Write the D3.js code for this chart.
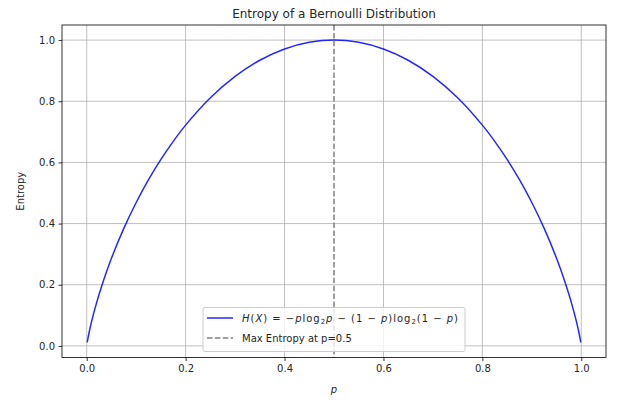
<!DOCTYPE html>
<html>
<head>
<meta charset="utf-8">
<title>Entropy of a Bernoulli Distribution</title>
<style>
  body { margin: 0; background: #fff; }
  svg text { font-family: "DejaVu Sans", sans-serif; fill: #262626; }
</style>
</head>
<body>
<svg id="chart" width="618" height="403"></svg>
<script src="https://d3js.org/d3.v7.min.js"></script>
<script>
// values
var pValues = [0.001, 0.005, 0.01, 0.02, 0.03, 0.05, 0.075, 0.1, 0.125, 0.15, 0.175, 0.2, 0.25, 0.3, 0.35, 0.4, 0.45, 0.5,
               0.55, 0.6, 0.65, 0.7, 0.75, 0.8, 0.825, 0.85, 0.875, 0.9, 0.925, 0.95, 0.97, 0.98, 0.99, 0.995, 0.999];
var entropyValues = [0.0114, 0.0454, 0.0808, 0.1414, 0.1944, 0.2864, 0.3843, 0.4690, 0.5436, 0.6098, 0.6690, 0.7219, 0.8113, 0.8813, 0.9341, 0.9710, 0.9928, 1.0,
                     0.9928, 0.9710, 0.9341, 0.8813, 0.8113, 0.7219, 0.6690, 0.6098, 0.5436, 0.4690, 0.3843, 0.2864, 0.1944, 0.1414, 0.0808, 0.0454, 0.0114];
var xTicks = [0.0, 0.2, 0.4, 0.6, 0.8, 1.0];
var yTicks = [0.0, 0.2, 0.4, 0.6, 0.8, 1.0];
var maxP = 0.5;

var data = pValues.map(function(p, i) { return {p: p, h: entropyValues[i]}; });

var svg = d3.select('#chart');
var plotL = 62, plotR = 606, plotT = 25, plotB = 357.5;

var x = d3.scaleLinear().domain([-0.05, 1.05]).range([plotL, plotR]);
var y = d3.scaleLinear().domain([-0.0380, 1.0494]).range([plotB, plotT]);

// grid
var grid = svg.append('g');
grid.selectAll('.vg').data(xTicks).enter().append('line')
  .attr('x1', function(d) { return x(d); }).attr('x2', function(d) { return x(d); })
  .attr('y1', plotT).attr('y2', plotB)
  .attr('stroke', '#b0b0b0').attr('stroke-width', 0.8);
grid.selectAll('.hg').data(yTicks).enter().append('line')
  .attr('y1', function(d) { return y(d); }).attr('y2', function(d) { return y(d); })
  .attr('x1', plotL).attr('x2', plotR)
  .attr('stroke', '#b0b0b0').attr('stroke-width', 0.8);

// entropy curve
var line = d3.line()
  .x(function(d) { return x(d.p); })
  .y(function(d) { return y(d.h); })
  .curve(d3.curveCatmullRom);
svg.append('path').datum(data)
  .attr('d', line)
  .attr('fill', 'none')
  .attr('stroke', '#0000ff')
  .attr('stroke-opacity', 0.85)
  .attr('stroke-width', 1.5);

// max entropy line
svg.append('line')
  .attr('x1', x(maxP)).attr('x2', x(maxP))
  .attr('y1', plotT).attr('y2', plotB)
  .attr('stroke', '#808080')
  .attr('stroke-width', 1.5)
  .attr('stroke-dasharray', '5.5,2.4');

// axes
var xAxis = d3.axisBottom(x).tickValues(xTicks).tickFormat(d3.format('.1f')).tickSize(3.5).tickPadding(3.5);
var yAxis = d3.axisLeft(y).tickValues(yTicks).tickFormat(d3.format('.1f')).tickSize(3.5).tickPadding(3.5);
var gx = svg.append('g').attr('transform', 'translate(0,' + plotB + ')').call(xAxis);
var gy = svg.append('g').attr('transform', 'translate(' + plotL + ',0)').call(yAxis);
[gx, gy].forEach(function(g) {
  g.select('.domain').remove();
  g.selectAll('line').attr('stroke', '#000').attr('stroke-width', 0.8);
  g.selectAll('text').attr('font-size', 10).attr('fill', '#262626')
    .style('font-family', '"DejaVu Sans", sans-serif');
});

// frame
svg.append('rect')
  .attr('x', plotL).attr('y', plotT)
  .attr('width', plotR - plotL).attr('height', plotB - plotT)
  .attr('fill', 'none').attr('stroke', '#000').attr('stroke-width', 0.8);

// titles
svg.append('text').attr('x', (plotL + plotR) / 2).attr('y', 18)
  .attr('text-anchor', 'middle').attr('font-size', 12).text('Entropy of a Bernoulli Distribution');
svg.append('text').attr('x', (plotL + plotR) / 2).attr('y', 393)
  .attr('text-anchor', 'middle').attr('font-size', 10).attr('font-style', 'italic').text('p');
svg.append('text').attr('transform', 'translate(24,' + ((plotT + plotB) / 2) + ') rotate(-90)')
  .attr('text-anchor', 'middle').attr('font-size', 10).text('Entropy');

// legend
var lg = svg.append('g');
lg.append('rect')
  .attr('x', 203).attr('y', 307.5).attr('width', 262).attr('height', 44)
  .attr('rx', 2).attr('fill', '#fff').attr('fill-opacity', 0.8)
  .attr('stroke', '#cccccc').attr('stroke-width', 1);
lg.append('line').attr('x1', 207).attr('x2', 233).attr('y1', 318).attr('y2', 318)
  .attr('stroke', '#0000ff').attr('stroke-opacity', 0.85).attr('stroke-width', 1.5);
lg.append('line').attr('x1', 207).attr('x2', 233).attr('y1', 338).attr('y2', 338)
  .attr('stroke', '#808080').attr('stroke-width', 1.5).attr('stroke-dasharray', '5.5,2.4');

var t1 = lg.append('text').attr('x', 242).attr('y', 322).attr('font-size', 10)
  .attr('textLength', 216).attr('lengthAdjust', 'spacing');
var parts = [
  ['H', 'i'], ['(', 'n'], ['X', 'i'], [') = \u2212', 'n'], ['p', 'i'], ['log', 'n'], ['2', 's'], ['p', 'i'],
  [' \u2212 (1 \u2212 ', 'n'], ['p', 'i'], [')log', 'n'], ['2', 's'], ['(1 \u2212 ', 'n'], ['p', 'i'], [')', 'n']
];
parts.forEach(function(pt, i) {
  var ts = t1.append('tspan').text(pt[0]);
  if (pt[1] === 'i') ts.attr('font-style', 'italic');
  if (pt[1] === 's') ts.attr('font-size', 7).attr('dy', 2);
  else if (i > 0 && parts[i - 1][1] === 's') ts.attr('dy', -2);
});
lg.append('text').attr('x', 242).attr('y', 342).attr('font-size', 10).text('Max Entropy at p=0.5');
</script>
</body>
</html>
